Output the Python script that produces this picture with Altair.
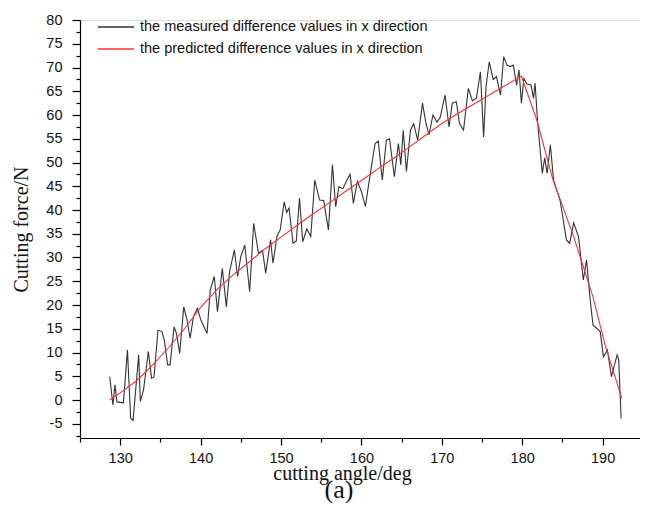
import altair as alt
import pandas as pd

series_names = ["the measured difference values in x direction",
                "the predicted difference values in x direction"]
series_colors = ["#333333", "#ff3030"]

measured_angle = [128.7, 129.1, 129.35, 129.6, 130.0, 130.4, 130.9, 131.3, 131.6, 132.3,
                  132.5, 132.9, 133.5, 133.9, 134.2, 134.7, 135.2, 135.5, 135.9, 136.2,
                  136.7, 137.0, 137.4, 137.9, 138.3, 138.7, 139.1, 139.6, 140.0, 140.8,
                  141.2, 141.7, 142.1, 142.7, 143.2, 143.6, 144.2, 144.6, 145.0, 145.5,
                  146.1, 146.6, 147.2, 147.7, 148.1, 148.7, 149.0, 149.5, 149.9, 150.4,
                  150.7, 151.0, 151.5, 151.9, 152.3, 152.7, 153.2, 153.7, 154.2, 154.8,
                  155.3, 155.9, 156.4, 156.8, 157.2, 157.7, 158.2, 158.6, 159.0, 159.5,
                  160.0, 160.5, 161.0, 161.7, 162.1, 162.6, 163.1, 163.5, 164.1, 164.6,
                  164.9, 165.2, 165.6, 166.1, 166.5, 167.0, 167.6, 168.0, 168.4, 168.9,
                  169.4, 169.8, 170.4, 170.9, 171.3, 171.8, 172.2, 172.7, 173.3, 173.8,
                  174.3, 174.8, 175.2, 175.5, 175.9, 176.4, 176.8, 177.3, 177.7, 178.1,
                  178.5, 178.9, 179.3, 179.6, 179.9, 180.2, 180.6, 181.1, 181.4, 181.6,
                  181.9, 182.1, 182.5, 182.8, 183.1, 183.5, 183.9, 184.7, 185.5, 185.9,
                  186.4, 187.0, 187.6, 188.0, 188.4, 188.8, 189.7, 190.1, 190.6, 191.1,
                  191.8, 192.0, 192.3]
measured_force = [4.9, -1.1, 3.2, -0.4, -0.5, -0.6, 10.5, -3.8, -4.3, 9.5,
                  -0.3, 2.1, 10.2, 4.6, 4.8, 14.7, 14.4, 12.5, 7.4, 7.4,
                  15.4, 14.0, 9.8, 19.6, 17.0, 13.0, 17.5, 19.3, 17.0, 14.0,
                  23.2, 26.0, 18.6, 27.7, 19.6, 27.0, 31.6, 26.0, 30.2, 32.6,
                  22.8, 37.2, 30.9, 31.5, 26.7, 33.7, 28.8, 34.5, 35.8, 41.7,
                  39.5, 40.4, 33.0, 33.5, 42.5, 33.3, 36.0, 34.4, 46.3, 42.1,
                  42.0, 35.8, 49.5, 40.7, 44.9, 44.5, 46.3, 47.5, 41.4, 46.0,
                  43.9, 40.7, 46.5, 54.0, 54.5, 46.3, 54.7, 55.0, 47.0, 54.0,
                  49.5, 56.8, 48.1, 56.8, 58.2, 54.7, 62.5, 58.5, 55.8, 60.0,
                  58.5, 59.5, 64.2, 57.5, 62.5, 62.8, 58.2, 56.8, 65.6, 63.0,
                  63.5, 69.1, 55.4, 66.0, 71.2, 67.5, 68.1, 64.2, 72.3, 70.5,
                  70.2, 70.5, 66.3, 69.5, 62.5, 67.7, 66.5, 66.3, 63.5, 66.7,
                  58.9, 55.1, 47.7, 51.0, 47.7, 53.7, 46.3, 42.1, 33.7, 33.0,
                  37.3, 34.4, 25.3, 29.5, 22.0, 15.8, 14.4, 9.1, 10.5, 4.9,
                  9.5, 8.5, -3.9]

predicted_angle = [128.7, 130, 132, 134, 136, 138, 140, 142, 144, 146, 148, 150, 152,
                   154, 156, 158, 160, 162, 164, 166, 168, 170, 172, 174, 176, 178,
                   179.9, 181.8, 183.8, 186.4, 188.8, 190.3, 192.4]
predicted_force = [0.0, 1.5, 4.0, 7.3, 11.0, 15.0, 19.5, 23.2, 26.3, 29.0, 31.8, 34.3, 36.8,
                   39.2, 41.5, 43.9, 46.2, 48.6, 50.9, 53.3, 55.8, 58.2, 60.3, 62.3, 64.3, 66.3,
                   68.2, 59.0, 46.5, 34.4, 21.7, 11.6, 0.3]

x_tick_values = [125, 130, 135, 140, 145, 150, 155, 160, 165, 170, 175, 180, 185, 190]
y_tick_values = [-7.5, -5, -2.5, 0, 2.5, 5, 7.5, 10, 12.5, 15, 17.5, 20, 22.5, 25, 27.5,
                 30, 32.5, 35, 37.5, 40, 42.5, 45, 47.5, 50, 52.5, 55, 57.5, 60, 62.5,
                 65, 67.5, 70, 72.5, 75, 77.5, 80]

df_m = pd.DataFrame({"angle": measured_angle, "force": measured_force,
                     "series": series_names[0]})
df_p = pd.DataFrame({"angle": predicted_angle, "force": predicted_force,
                     "series": series_names[1]})

x_enc = alt.X(
    "angle:Q",
    scale=alt.Scale(domain=[125, 194.65], nice=False, zero=False),
    axis=alt.Axis(
        values=x_tick_values,
        labelExpr="datum.value % 10 === 0 ? '' + datum.value : ''",
        tickSize={"condition": {"test": "datum.value % 10 === 0", "value": 7}, "value": 4},
        labelFont="Liberation Sans", labelFontSize=14.5, labelColor="#111111",
        labelPadding=6, labelOverlap=False, labelFlush=False,
        title="cutting angle/deg", titleFont="Liberation Serif", titleFontSize=20,
        titleFontWeight="normal", titleColor="#111111", titlePadding=-1, titleX=262,
        grid=False, domainColor="#000000", tickColor="#000000", domainWidth=1.2, tickWidth=1.2,
    ),
)
y_enc = alt.Y(
    "force:Q",
    scale=alt.Scale(domain=[-8, 80], nice=False, zero=False),
    axis=alt.Axis(
        values=y_tick_values,
        labelExpr="datum.value % 5 === 0 ? '' + datum.value : ''",
        tickSize={"condition": {"test": "datum.value % 5 === 0", "value": 8}, "value": 4},
        labelFont="Liberation Sans", labelFontSize=14.5, labelColor="#111111",
        labelPadding=10, labelOverlap=False, labelFlush=False,
        title="Cutting force/N", titleFont="Liberation Serif", titleFontSize=20,
        titleFontWeight="normal", titleColor="#111111", titlePadding=14,
        grid=False, domainColor="#000000", tickColor="#000000", domainWidth=1.2, tickWidth=1.2,
    ),
)
color_enc = alt.Color(
    "series:N",
    scale=alt.Scale(domain=series_names, range=series_colors),
    legend=alt.Legend(
        title=None, orient="none", legendX=17, legendY=-1, padding=0,
        symbolType="stroke", symbolSize=1296, symbolStrokeWidth=1.5,
        clipHeight=16, rowPadding=6, labelOffset=5, labelLimit=0,
        labelFont="Liberation Sans", labelFontSize=14.5, labelColor="#111111",
    ),
)

measured = alt.Chart(df_m).mark_line(strokeWidth=1.1).encode(x=x_enc, y=y_enc, color=color_enc)
predicted = alt.Chart(df_p).mark_line(strokeWidth=1.1).encode(x=x_enc, y=y_enc, color=color_enc)

chart = alt.layer(measured, predicted).properties(
    width=560, height=418,
    autosize=alt.AutoSizeParams(type="none"),
    padding={"left": 72, "top": 12, "right": 0, "bottom": 65},
    title=alt.TitleParams("(a)", orient="bottom", font="Liberation Serif", fontSize=26,
                          fontWeight="normal", color="#111111", dx=-21, offset=-7),
).configure_view(stroke=None).configure(background="white")

chart.save("out.html", embed_options={"renderer": "svg", "actions": False})
